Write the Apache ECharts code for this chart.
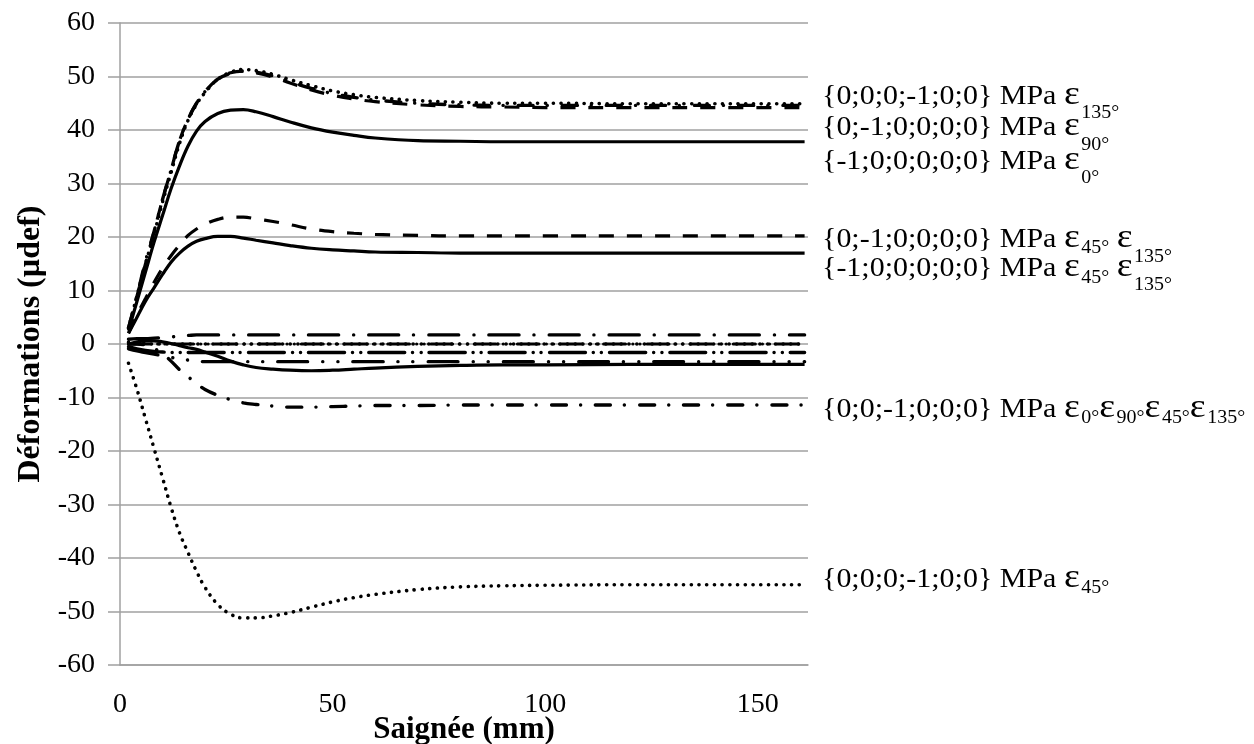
<!DOCTYPE html>
<html><head><meta charset="utf-8">
<script src="https://cdn.jsdelivr.net/npm/echarts@6/dist/echarts.min.js"></script>
<style>html,body{margin:0;padding:0;background:#fff}#c{width:1254px;height:744px}</style>
</head><body><div id="c"></div>
<script>
// ---- data (x = Saignée mm, y = Déformations µdef) ----
const xs = [2,4,6,8,10,12,14,16,18,20,23,26,29,32,36,40,45,50,55,60,70,80,90,100,120,140,161];
const s135Dot   = [3,9,15,20.5,26.5,32,37.5,41.8,44.8,47,49.5,50.8,51.3,51.1,50.4,49.4,48.3,47.3,46.6,46.1,45.5,45.2,45.0,45.0,44.9,44.9,44.9];
const s135Dash  = [3,9,15,21,27,32.5,38,42,45,47.2,49.5,50.7,51.0,50.7,49.9,48.8,47.5,46.5,45.8,45.3,44.7,44.4,44.3,44.2,44.2,44.2,44.2];
const s0DashDot = [3,9,15.5,21,27,32.5,38,42,45,47.2,49.5,50.6,51.0,50.8,50.1,49.0,47.8,46.8,46.1,45.6,45.0,44.7,44.6,44.6,44.6,44.6,44.6];
const s90Solid  = [2.5,8,13.5,19,24,29,33.3,37,39.8,41.6,43.1,43.7,43.8,43.4,42.5,41.5,40.4,39.6,39.0,38.5,38.0,37.9,37.8,37.8,37.8,37.8,37.8];
const s45Dash   = [2,5.5,8.5,11.5,14.2,16.5,18.5,20.3,21.5,22.4,23.3,23.7,23.7,23.4,22.9,22.3,21.5,21.0,20.7,20.5,20.3,20.2,20.2,20.2,20.2,20.2,20.2];
const s45Solid  = [2,5,8,10.5,13,15.3,17,18.3,19.2,19.7,20.1,20.1,19.8,19.4,18.9,18.4,17.9,17.6,17.4,17.2,17.1,17.0,17.0,17.0,17.0,17.0,17.0];
const nearP17   = [0.9,1.0,1.0,1.1,1.2,1.3,1.5,1.6,1.7,1.7,1.7,1.7,1.7,1.7,1.7,1.7,1.7,1.7,1.7,1.7,1.7,1.7,1.7,1.7,1.7,1.7,1.7];
const near0Dot  = [0.3,0.2,0.1,0,0,0,0,0,0,0,0,0,0,0,0,0,0,0,0,0,0,0,0,0,0,0,0];
const near0DDD  = [0,0,0,0,0,0,0,0,0,0,0,0,0,0,0,0,0,0,0,0,0,0,0,0,0,0,0];
const nearM16   = [-0.5,-0.9,-1.2,-1.4,-1.5,-1.6,-1.6,-1.6,-1.6,-1.6,-1.6,-1.6,-1.6,-1.6,-1.6,-1.6,-1.6,-1.6,-1.6,-1.6,-1.6,-1.6,-1.6,-1.6,-1.6,-1.6,-1.6];
const nearM33   = [-0.9,-1.3,-1.6,-1.9,-2.2,-2.5,-2.8,-3.0,-3.2,-3.3,-3.3,-3.3,-3.3,-3.3,-3.3,-3.3,-3.3,-3.3,-3.3,-3.3,-3.3,-3.3,-3.3,-3.3,-3.3,-3.3,-3.3];
const smallSolid= [0,0.4,0.6,0.6,0.4,0.1,-0.3,-0.7,-1.0,-1.5,-2.3,-3.2,-3.9,-4.4,-4.7,-4.9,-5.0,-4.9,-4.7,-4.5,-4.2,-4.0,-3.9,-3.9,-3.8,-3.8,-3.8];
const dashDotM11= [0,0,-0.2,-0.8,-1.8,-3.2,-4.8,-6.1,-7.4,-8.5,-9.6,-10.4,-11.0,-11.3,-11.6,-11.8,-11.8,-11.7,-11.6,-11.5,-11.5,-11.4,-11.4,-11.4,-11.4,-11.4,-11.4];
const dotM45    = [-3.6,-8.5,-14,-19.5,-25,-30.5,-35.3,-39,-42.5,-45.5,-48.7,-50.5,-51.2,-51.2,-50.8,-50.2,-49.2,-48.2,-47.4,-46.8,-45.9,-45.4,-45.2,-45.1,-45.0,-45.0,-45.0];

const xTicks = [0, 50, 100, 150];
const yTicks = [-60,-50,-40,-30,-20,-10,0,10,20,30,40,50,60];

// annotation texts: [text, role]  role: 'm' main, 'e' epsilon, 's' subscript
const annotationTexts = [
  [['{0;0;0;-1;0;0} MPa ','m'],['ε','e'],['135°','s']],
  [['{0;-1;0;0;0;0} MPa ','m'],['ε','e'],['90°','s']],
  [['{-1;0;0;0;0;0} MPa ','m'],['ε','e'],['0°','s']],
  [['{0;-1;0;0;0;0} MPa ','m'],['ε','e'],['45°','s'],[' ','m'],['ε','e'],['135°','s']],
  [['{-1;0;0;0;0;0} MPa ','m'],['ε','e'],['45°','s'],[' ','m'],['ε','e'],['135°','s']],
  [['{0;0;-1;0;0;0} MPa ','m'],['ε','e'],['0°','s'],['ε','e'],['90°','s'],['ε','e'],['45°','s'],['ε','e'],['135°','s']],
  [['{0;0;0;-1;0;0} MPa ','m'],['ε','e'],['45°','s']]
];

// ---- styling / layout ----
const FONT = '"Liberation Serif","Times New Roman",serif';
const DOT = {type:[0.1,7.6], cap:'round', width:3.6};
const DASH = {type:[15,13], cap:'butt', width:3.2};
const SOLID = {type:'solid', width:3.2};
const DASHDOT = {type:[15,14,0.1,15], cap:'round', width:3.4};
const LDASHDOT = {type:[30,15,0.1,15], cap:'round', width:3.4};
const LDASHDOTDOT = {type:[30,15,0.1,15,0.1,15], cap:'round', width:3.4};
const DASHDOTDOT = {type:[36,8,0.1,8,0.1,8], cap:'round', width:3.4};
const SHORTDDD = {type:[22,7,0.1,7,0.1,7], cap:'round', width:3};

const seriesDefs = [
  [s135Dot, DOT], [s135Dash, DASH], [s0DashDot, DASHDOT], [s90Solid, SOLID],
  [s45Dash, DASH], [s45Solid, SOLID],
  [nearP17, LDASHDOT], [near0Dot, DOT], [near0DDD, SHORTDDD], [nearM16, DASHDOTDOT],
  [nearM33, LDASHDOTDOT], [smallSolid, SOLID], [dashDotM11, DASHDOT], [dotM45, DOT]
];

const chart = echarts.init(document.getElementById('c'), null, {renderer:'canvas'});

// text layout for annotations (baselines in px, subscript drops per line)
const annLeft = 822;
const annBaselines = [105, 136, 170, 248, 277, 418, 588];
const annSubDrops = [[13],[14],[13],[5,14],[6,13],[5,5,5,5],[5]];
const fsByRole = {m:27, e:34, s:18};
const stretch = 1.11, epsExtra = 1.5;
const cv = document.createElement('canvas').getContext('2d');
const graphics = [];
annotationTexts.forEach((parts, i) => {
  let x = annLeft, si = 0;
  const base = annBaselines[i];
  parts.forEach(([t, role]) => {
    const fs = fsByRole[role];
    cv.font = fs + 'px ' + FONT;
    let w = cv.measureText(t).width * stretch;
    if (role === 'e') w += epsExtra;
    const bl = role === 's' ? base + annSubDrops[i][si++] : base;
    graphics.push({
      type:'text', x:x, y:bl + 0.21 * fs, scaleX:stretch, silent:true,
      style:{text:t, x:0, y:0, fill:'#000', font: fs + 'px ' + FONT, verticalAlign:'bottom'}
    });
    x += w;
  });
});
// y axis title
graphics.push({
  type:'text', x:31, y:344, rotation:Math.PI/2, silent:true,
  style:{text:'Déformations (µdef)', x:0, y:0, fill:'#000', font:'bold 32px ' + FONT, align:'center', verticalAlign:'middle'}
});

const option = {
  animation:false,
  backgroundColor:'#fff',
  grid:{left:120, right:446, top:23, bottom:79, containLabel:false, outerBoundsMode:'none'},
  xAxis:{
    type:'value', min:0, max:161.8, interval:50,
    axisLine:{onZero:false, lineStyle:{color:'#a0a0a0', width:1.5}},
    axisTick:{show:false},
    splitLine:{show:false},
    axisLabel:{showMaxLabel:false, color:'#000', fontFamily:FONT, fontSize:28, margin:26,
      formatter: v => xTicks.includes(v) ? String(v) : ''},
    name:'Saignée (mm)', nameLocation:'middle', nameGap:49, nameMoveOverlap:false,
    nameTextStyle:{color:'#000', fontFamily:FONT, fontSize:31, fontWeight:'bold'}
  },
  yAxis:{
    type:'value', min:-60, max:60, interval:10,
    axisLine:{show:true, onZero:false, lineStyle:{color:'#a0a0a0', width:1.5}},
    axisTick:{show:true, length:12, lineStyle:{color:'#a0a0a0', width:1.5}},
    splitLine:{show:true, lineStyle:{color:'#a0a0a0', width:1.5}},
    axisLabel:{color:'#000', fontFamily:FONT, fontSize:28, margin:25,
      formatter: v => yTicks.includes(v) ? String(v) : ''}
  },
  series: seriesDefs.map(([arr, ls], i) => ({
    type:'line', name:'s'+i, showSymbol:false, smooth:0.4, z:2,
    data: xs.map((x, k) => [x, arr[k]]),
    lineStyle:Object.assign({color:'#000'}, ls)
  })),
  graphic: graphics
};
chart.setOption(option);
</script></body></html>
